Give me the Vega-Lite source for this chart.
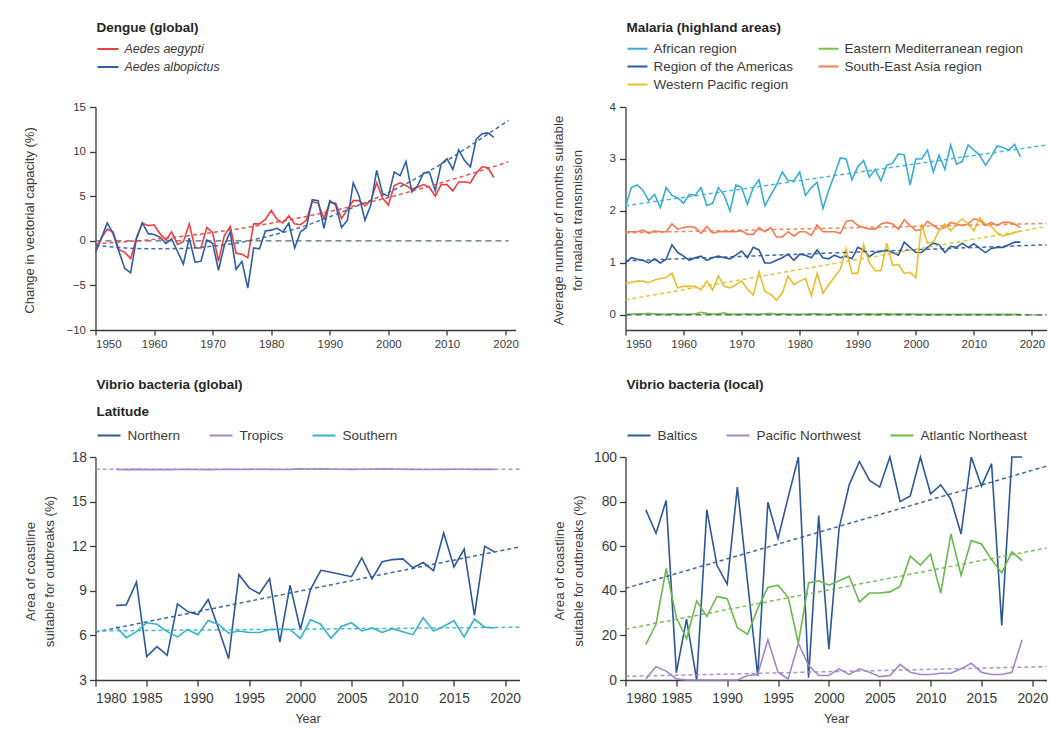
{
  "$schema": "https://vega.github.io/schema/vega-lite/v6.json",
  "padding": {"left": 22.5, "top": 21, "right": 2, "bottom": 2},
  "background": "white",
  "config": {
    "font": "Liberation Sans",
    "view": {"stroke": null},
    "axis": {"grid": false, "domainColor": "#3a3a3a", "tickColor": "#3a3a3a", "labelColor": "#3a3a3a", "titleColor": "#3a3a3a", "domainWidth": 1.3, "tickWidth": 1.3, "titleFontWeight": "normal"},
    "legend": {"symbolType": "stroke", "symbolStrokeWidth": 2, "labelColor": "#3a3a3a", "titleColor": "#262626", "titleFontWeight": "bold", "titleFontSize": 13.5, "labelFontSize": 13.5, "padding": 0, "labelLimit": 300}
  },
  "columns": 2,
  "spacing": {"row": 127, "column": 106},
  "bounds": "flush",
  "resolve": {"scale": {"color": "independent"}},
  "datasets": {
    "dengue": [
      {"x":1950,"v":-1.0,"s":"Aedes aegypti"},{"x":1951,"v":0.3,"s":"Aedes aegypti"},{"x":1952,"v":1.3,"s":"Aedes aegypti"},{"x":1953,"v":1.0,"s":"Aedes aegypti"},{"x":1954,"v":-1.0,"s":"Aedes aegypti"},{"x":1955,"v":-1.3,"s":"Aedes aegypti"},{"x":1956,"v":-2.0,"s":"Aedes aegypti"},{"x":1957,"v":0.3,"s":"Aedes aegypti"},{"x":1958,"v":2.0,"s":"Aedes aegypti"},{"x":1959,"v":1.7,"s":"Aedes aegypti"},
      {"x":1960,"v":1.8,"s":"Aedes aegypti"},{"x":1961,"v":0.8,"s":"Aedes aegypti"},{"x":1962,"v":0.1,"s":"Aedes aegypti"},{"x":1963,"v":1.0,"s":"Aedes aegypti"},{"x":1964,"v":-0.4,"s":"Aedes aegypti"},{"x":1965,"v":-0.1,"s":"Aedes aegypti"},{"x":1966,"v":1.9,"s":"Aedes aegypti"},{"x":1967,"v":-0.8,"s":"Aedes aegypti"},{"x":1968,"v":-0.8,"s":"Aedes aegypti"},{"x":1969,"v":1.5,"s":"Aedes aegypti"},
      {"x":1970,"v":0.9,"s":"Aedes aegypti"},{"x":1971,"v":-2.3,"s":"Aedes aegypti"},{"x":1972,"v":0.6,"s":"Aedes aegypti"},{"x":1973,"v":1.6,"s":"Aedes aegypti"},{"x":1974,"v":-1.4,"s":"Aedes aegypti"},{"x":1975,"v":-1.5,"s":"Aedes aegypti"},{"x":1976,"v":-1.9,"s":"Aedes aegypti"},{"x":1977,"v":1.9,"s":"Aedes aegypti"},{"x":1978,"v":1.9,"s":"Aedes aegypti"},{"x":1979,"v":2.4,"s":"Aedes aegypti"},
      {"x":1980,"v":3.4,"s":"Aedes aegypti"},{"x":1981,"v":2.4,"s":"Aedes aegypti"},{"x":1982,"v":2.0,"s":"Aedes aegypti"},{"x":1983,"v":2.8,"s":"Aedes aegypti"},{"x":1984,"v":1.9,"s":"Aedes aegypti"},{"x":1985,"v":1.8,"s":"Aedes aegypti"},{"x":1986,"v":2.3,"s":"Aedes aegypti"},{"x":1987,"v":4.4,"s":"Aedes aegypti"},{"x":1988,"v":4.2,"s":"Aedes aegypti"},{"x":1989,"v":2.5,"s":"Aedes aegypti"},
      {"x":1990,"v":4.3,"s":"Aedes aegypti"},{"x":1991,"v":4.2,"s":"Aedes aegypti"},{"x":1992,"v":2.5,"s":"Aedes aegypti"},{"x":1993,"v":3.5,"s":"Aedes aegypti"},{"x":1994,"v":4.5,"s":"Aedes aegypti"},{"x":1995,"v":4.5,"s":"Aedes aegypti"},{"x":1996,"v":3.9,"s":"Aedes aegypti"},{"x":1997,"v":4.5,"s":"Aedes aegypti"},{"x":1998,"v":6.5,"s":"Aedes aegypti"},{"x":1999,"v":4.8,"s":"Aedes aegypti"},
      {"x":2000,"v":4.0,"s":"Aedes aegypti"},{"x":2001,"v":6.2,"s":"Aedes aegypti"},{"x":2002,"v":6.5,"s":"Aedes aegypti"},{"x":2003,"v":6.2,"s":"Aedes aegypti"},{"x":2004,"v":5.8,"s":"Aedes aegypti"},{"x":2005,"v":6.0,"s":"Aedes aegypti"},{"x":2006,"v":6.3,"s":"Aedes aegypti"},{"x":2007,"v":6.0,"s":"Aedes aegypti"},{"x":2008,"v":5.0,"s":"Aedes aegypti"},{"x":2009,"v":6.3,"s":"Aedes aegypti"},
      {"x":2010,"v":6.3,"s":"Aedes aegypti"},{"x":2011,"v":5.6,"s":"Aedes aegypti"},{"x":2012,"v":6.6,"s":"Aedes aegypti"},{"x":2013,"v":6.6,"s":"Aedes aegypti"},{"x":2014,"v":6.5,"s":"Aedes aegypti"},{"x":2015,"v":7.6,"s":"Aedes aegypti"},{"x":2016,"v":8.3,"s":"Aedes aegypti"},{"x":2017,"v":8.2,"s":"Aedes aegypti"},{"x":2018,"v":7.1,"s":"Aedes aegypti"},
      {"x":1950,"v":-1.3,"s":"Aedes albopictus"},{"x":1951,"v":0.3,"s":"Aedes albopictus"},{"x":1952,"v":2.0,"s":"Aedes albopictus"},{"x":1953,"v":0.8,"s":"Aedes albopictus"},{"x":1954,"v":-1.2,"s":"Aedes albopictus"},{"x":1955,"v":-3.1,"s":"Aedes albopictus"},{"x":1956,"v":-3.6,"s":"Aedes albopictus"},{"x":1957,"v":0.3,"s":"Aedes albopictus"},{"x":1958,"v":2.0,"s":"Aedes albopictus"},{"x":1959,"v":0.8,"s":"Aedes albopictus"},
      {"x":1960,"v":0.7,"s":"Aedes albopictus"},{"x":1961,"v":0.4,"s":"Aedes albopictus"},{"x":1962,"v":-0.3,"s":"Aedes albopictus"},{"x":1963,"v":0.2,"s":"Aedes albopictus"},{"x":1964,"v":-1.2,"s":"Aedes albopictus"},{"x":1965,"v":-2.6,"s":"Aedes albopictus"},{"x":1966,"v":0.3,"s":"Aedes albopictus"},{"x":1967,"v":-2.4,"s":"Aedes albopictus"},{"x":1968,"v":-2.3,"s":"Aedes albopictus"},{"x":1969,"v":0.1,"s":"Aedes albopictus"},
      {"x":1970,"v":-0.3,"s":"Aedes albopictus"},{"x":1971,"v":-3.3,"s":"Aedes albopictus"},{"x":1972,"v":-0.5,"s":"Aedes albopictus"},{"x":1973,"v":1.0,"s":"Aedes albopictus"},{"x":1974,"v":-3.2,"s":"Aedes albopictus"},{"x":1975,"v":-2.3,"s":"Aedes albopictus"},{"x":1976,"v":-5.3,"s":"Aedes albopictus"},{"x":1977,"v":-0.8,"s":"Aedes albopictus"},{"x":1978,"v":-0.9,"s":"Aedes albopictus"},{"x":1979,"v":1.1,"s":"Aedes albopictus"},
      {"x":1980,"v":1.2,"s":"Aedes albopictus"},{"x":1981,"v":1.4,"s":"Aedes albopictus"},{"x":1982,"v":1.0,"s":"Aedes albopictus"},{"x":1983,"v":2.0,"s":"Aedes albopictus"},{"x":1984,"v":-0.8,"s":"Aedes albopictus"},{"x":1985,"v":1.0,"s":"Aedes albopictus"},{"x":1986,"v":1.5,"s":"Aedes albopictus"},{"x":1987,"v":4.6,"s":"Aedes albopictus"},{"x":1988,"v":4.5,"s":"Aedes albopictus"},{"x":1989,"v":1.4,"s":"Aedes albopictus"},
      {"x":1990,"v":4.5,"s":"Aedes albopictus"},{"x":1991,"v":4.0,"s":"Aedes albopictus"},{"x":1992,"v":1.5,"s":"Aedes albopictus"},{"x":1993,"v":2.3,"s":"Aedes albopictus"},{"x":1994,"v":6.5,"s":"Aedes albopictus"},{"x":1995,"v":5.0,"s":"Aedes albopictus"},{"x":1996,"v":2.3,"s":"Aedes albopictus"},{"x":1997,"v":4.0,"s":"Aedes albopictus"},{"x":1998,"v":7.9,"s":"Aedes albopictus"},{"x":1999,"v":5.3,"s":"Aedes albopictus"},
      {"x":2000,"v":5.0,"s":"Aedes albopictus"},{"x":2001,"v":7.7,"s":"Aedes albopictus"},{"x":2002,"v":7.3,"s":"Aedes albopictus"},{"x":2003,"v":8.9,"s":"Aedes albopictus"},{"x":2004,"v":5.5,"s":"Aedes albopictus"},{"x":2005,"v":6.2,"s":"Aedes albopictus"},{"x":2006,"v":7.6,"s":"Aedes albopictus"},{"x":2007,"v":7.7,"s":"Aedes albopictus"},{"x":2008,"v":5.6,"s":"Aedes albopictus"},{"x":2009,"v":8.6,"s":"Aedes albopictus"},
      {"x":2010,"v":9.2,"s":"Aedes albopictus"},{"x":2011,"v":8.0,"s":"Aedes albopictus"},{"x":2012,"v":10.2,"s":"Aedes albopictus"},{"x":2013,"v":9.0,"s":"Aedes albopictus"},{"x":2014,"v":8.3,"s":"Aedes albopictus"},{"x":2015,"v":11.4,"s":"Aedes albopictus"},{"x":2016,"v":12.0,"s":"Aedes albopictus"},{"x":2017,"v":12.1,"s":"Aedes albopictus"},{"x":2018,"v":11.6,"s":"Aedes albopictus"}
    ],
    "dengueTrend": [
      {"x":1950,"v":-0.35,"s":"Aedes aegypti"},{"x":1955,"v":-0.1,"s":"Aedes aegypti"},{"x":1960,"v":0.16,"s":"Aedes aegypti"},{"x":1965,"v":0.5,"s":"Aedes aegypti"},{"x":1970,"v":0.94,"s":"Aedes aegypti"},{"x":1975,"v":1.4,"s":"Aedes aegypti"},{"x":1980,"v":1.98,"s":"Aedes aegypti"},{"x":1985,"v":2.6,"s":"Aedes aegypti"},{"x":1990,"v":3.29,"s":"Aedes aegypti"},{"x":1995,"v":4.05,"s":"Aedes aegypti"},{"x":2000,"v":4.86,"s":"Aedes aegypti"},{"x":2005,"v":5.75,"s":"Aedes aegypti"},{"x":2010,"v":6.7,"s":"Aedes aegypti"},{"x":2015,"v":7.7,"s":"Aedes aegypti"},{"x":2020.5,"v":8.85,"s":"Aedes aegypti"},
      {"x":1950,"v":-0.5,"s":"Aedes albopictus"},{"x":1955,"v":-0.8,"s":"Aedes albopictus"},{"x":1960,"v":-0.9,"s":"Aedes albopictus"},{"x":1965,"v":-0.85,"s":"Aedes albopictus"},{"x":1970,"v":-0.6,"s":"Aedes albopictus"},{"x":1975,"v":-0.15,"s":"Aedes albopictus"},{"x":1980,"v":0.6,"s":"Aedes albopictus"},{"x":1985,"v":1.5,"s":"Aedes albopictus"},{"x":1990,"v":2.7,"s":"Aedes albopictus"},{"x":1995,"v":4.0,"s":"Aedes albopictus"},{"x":2000,"v":5.4,"s":"Aedes albopictus"},{"x":2005,"v":7.1,"s":"Aedes albopictus"},{"x":2010,"v":9.0,"s":"Aedes albopictus"},{"x":2015,"v":11.1,"s":"Aedes albopictus"},{"x":2020.5,"v":13.5,"s":"Aedes albopictus"}
    ],
    "malaria": [
      {"x":1950,"v":2.08,"s":"African region"},{"x":1951,"v":2.45,"s":"African region"},{"x":1952,"v":2.5,"s":"African region"},{"x":1953,"v":2.4,"s":"African region"},{"x":1954,"v":2.2,"s":"African region"},{"x":1955,"v":2.32,"s":"African region"},{"x":1956,"v":2.07,"s":"African region"},{"x":1957,"v":2.45,"s":"African region"},{"x":1958,"v":2.3,"s":"African region"},{"x":1959,"v":2.25,"s":"African region"},
      {"x":1960,"v":2.15,"s":"African region"},{"x":1961,"v":2.32,"s":"African region"},{"x":1962,"v":2.3,"s":"African region"},{"x":1963,"v":2.45,"s":"African region"},{"x":1964,"v":2.1,"s":"African region"},{"x":1965,"v":2.15,"s":"African region"},{"x":1966,"v":2.45,"s":"African region"},{"x":1967,"v":2.3,"s":"African region"},{"x":1968,"v":2.0,"s":"African region"},{"x":1969,"v":2.5,"s":"African region"},
      {"x":1970,"v":2.45,"s":"African region"},{"x":1971,"v":2.13,"s":"African region"},{"x":1972,"v":2.45,"s":"African region"},{"x":1973,"v":2.6,"s":"African region"},{"x":1974,"v":2.1,"s":"African region"},{"x":1975,"v":2.3,"s":"African region"},{"x":1976,"v":2.5,"s":"African region"},{"x":1977,"v":2.75,"s":"African region"},{"x":1978,"v":2.58,"s":"African region"},{"x":1979,"v":2.58,"s":"African region"},
      {"x":1980,"v":2.75,"s":"African region"},{"x":1981,"v":2.3,"s":"African region"},{"x":1982,"v":2.45,"s":"African region"},{"x":1983,"v":2.55,"s":"African region"},{"x":1984,"v":2.05,"s":"African region"},{"x":1985,"v":2.4,"s":"African region"},{"x":1986,"v":2.7,"s":"African region"},{"x":1987,"v":3.02,"s":"African region"},{"x":1988,"v":3.0,"s":"African region"},{"x":1989,"v":2.6,"s":"African region"},
      {"x":1990,"v":2.85,"s":"African region"},{"x":1991,"v":2.97,"s":"African region"},{"x":1992,"v":2.65,"s":"African region"},{"x":1993,"v":2.8,"s":"African region"},{"x":1994,"v":2.58,"s":"African region"},{"x":1995,"v":2.88,"s":"African region"},{"x":1996,"v":2.92,"s":"African region"},{"x":1997,"v":3.1,"s":"African region"},{"x":1998,"v":3.08,"s":"African region"},{"x":1999,"v":2.5,"s":"African region"},
      {"x":2000,"v":3.0,"s":"African region"},{"x":2001,"v":3.0,"s":"African region"},{"x":2002,"v":3.17,"s":"African region"},{"x":2003,"v":2.75,"s":"African region"},{"x":2004,"v":3.07,"s":"African region"},{"x":2005,"v":2.8,"s":"African region"},{"x":2006,"v":3.27,"s":"African region"},{"x":2007,"v":2.9,"s":"African region"},{"x":2008,"v":2.95,"s":"African region"},{"x":2009,"v":3.27,"s":"African region"},
      {"x":2010,"v":3.17,"s":"African region"},{"x":2011,"v":3.07,"s":"African region"},{"x":2012,"v":2.88,"s":"African region"},{"x":2013,"v":3.05,"s":"African region"},{"x":2014,"v":3.25,"s":"African region"},{"x":2015,"v":3.22,"s":"African region"},{"x":2016,"v":3.17,"s":"African region"},{"x":2017,"v":3.28,"s":"African region"},{"x":2018,"v":3.04,"s":"African region"},
      {"x":1950,"v":0.01,"s":"Eastern Mediterranean region"},{"x":1951,"v":0.01,"s":"Eastern Mediterranean region"},{"x":1952,"v":0.02,"s":"Eastern Mediterranean region"},{"x":1953,"v":0.02,"s":"Eastern Mediterranean region"},{"x":1954,"v":0.03,"s":"Eastern Mediterranean region"},{"x":1955,"v":0.02,"s":"Eastern Mediterranean region"},{"x":1956,"v":0.01,"s":"Eastern Mediterranean region"},{"x":1957,"v":0.01,"s":"Eastern Mediterranean region"},{"x":1958,"v":0.02,"s":"Eastern Mediterranean region"},{"x":1959,"v":0.01,"s":"Eastern Mediterranean region"},
      {"x":1960,"v":0.01,"s":"Eastern Mediterranean region"},{"x":1961,"v":0.01,"s":"Eastern Mediterranean region"},{"x":1962,"v":0.02,"s":"Eastern Mediterranean region"},{"x":1963,"v":0.05,"s":"Eastern Mediterranean region"},{"x":1964,"v":0.03,"s":"Eastern Mediterranean region"},{"x":1965,"v":0.01,"s":"Eastern Mediterranean region"},{"x":1966,"v":0.02,"s":"Eastern Mediterranean region"},{"x":1967,"v":0.04,"s":"Eastern Mediterranean region"},{"x":1968,"v":0.01,"s":"Eastern Mediterranean region"},{"x":1969,"v":0.01,"s":"Eastern Mediterranean region"},
      {"x":1970,"v":0.01,"s":"Eastern Mediterranean region"},{"x":1971,"v":0.02,"s":"Eastern Mediterranean region"},{"x":1972,"v":0.01,"s":"Eastern Mediterranean region"},{"x":1973,"v":0.01,"s":"Eastern Mediterranean region"},{"x":1974,"v":0.02,"s":"Eastern Mediterranean region"},{"x":1975,"v":0.03,"s":"Eastern Mediterranean region"},{"x":1976,"v":0.01,"s":"Eastern Mediterranean region"},{"x":1977,"v":0.02,"s":"Eastern Mediterranean region"},{"x":1978,"v":0.01,"s":"Eastern Mediterranean region"},{"x":1979,"v":0.01,"s":"Eastern Mediterranean region"},
      {"x":1980,"v":0.01,"s":"Eastern Mediterranean region"},{"x":1981,"v":0.01,"s":"Eastern Mediterranean region"},{"x":1982,"v":0.02,"s":"Eastern Mediterranean region"},{"x":1983,"v":0.02,"s":"Eastern Mediterranean region"},{"x":1984,"v":0.01,"s":"Eastern Mediterranean region"},{"x":1985,"v":0.01,"s":"Eastern Mediterranean region"},{"x":1986,"v":0.02,"s":"Eastern Mediterranean region"},{"x":1987,"v":0.01,"s":"Eastern Mediterranean region"},{"x":1988,"v":0.02,"s":"Eastern Mediterranean region"},{"x":1989,"v":0.02,"s":"Eastern Mediterranean region"},
      {"x":1990,"v":0.01,"s":"Eastern Mediterranean region"},{"x":1991,"v":0.02,"s":"Eastern Mediterranean region"},{"x":1992,"v":0.02,"s":"Eastern Mediterranean region"},{"x":1993,"v":0.01,"s":"Eastern Mediterranean region"},{"x":1994,"v":0.02,"s":"Eastern Mediterranean region"},{"x":1995,"v":0.02,"s":"Eastern Mediterranean region"},{"x":1996,"v":0.01,"s":"Eastern Mediterranean region"},{"x":1997,"v":0.02,"s":"Eastern Mediterranean region"},{"x":1998,"v":0.01,"s":"Eastern Mediterranean region"},{"x":1999,"v":0.02,"s":"Eastern Mediterranean region"},
      {"x":2000,"v":0.01,"s":"Eastern Mediterranean region"},{"x":2001,"v":0.01,"s":"Eastern Mediterranean region"},{"x":2002,"v":0.01,"s":"Eastern Mediterranean region"},{"x":2003,"v":0.01,"s":"Eastern Mediterranean region"},{"x":2004,"v":0.01,"s":"Eastern Mediterranean region"},{"x":2005,"v":0.01,"s":"Eastern Mediterranean region"},{"x":2006,"v":0.01,"s":"Eastern Mediterranean region"},{"x":2007,"v":0.01,"s":"Eastern Mediterranean region"},{"x":2008,"v":0.01,"s":"Eastern Mediterranean region"},{"x":2009,"v":0.01,"s":"Eastern Mediterranean region"},
      {"x":2010,"v":0.01,"s":"Eastern Mediterranean region"},{"x":2011,"v":0.01,"s":"Eastern Mediterranean region"},{"x":2012,"v":0.01,"s":"Eastern Mediterranean region"},{"x":2013,"v":0.01,"s":"Eastern Mediterranean region"},{"x":2014,"v":0.01,"s":"Eastern Mediterranean region"},{"x":2015,"v":0.01,"s":"Eastern Mediterranean region"},{"x":2016,"v":0.01,"s":"Eastern Mediterranean region"},{"x":2017,"v":0.01,"s":"Eastern Mediterranean region"},{"x":2018,"v":0.01,"s":"Eastern Mediterranean region"},
      {"x":1950,"v":1.0,"s":"Region of the Americas"},{"x":1951,"v":1.1,"s":"Region of the Americas"},{"x":1952,"v":1.07,"s":"Region of the Americas"},{"x":1953,"v":1.05,"s":"Region of the Americas"},{"x":1954,"v":1.0,"s":"Region of the Americas"},{"x":1955,"v":1.08,"s":"Region of the Americas"},{"x":1956,"v":1.0,"s":"Region of the Americas"},{"x":1957,"v":1.07,"s":"Region of the Americas"},{"x":1958,"v":1.35,"s":"Region of the Americas"},{"x":1959,"v":1.2,"s":"Region of the Americas"},
      {"x":1960,"v":1.13,"s":"Region of the Americas"},{"x":1961,"v":1.05,"s":"Region of the Americas"},{"x":1962,"v":1.1,"s":"Region of the Americas"},{"x":1963,"v":1.13,"s":"Region of the Americas"},{"x":1964,"v":1.05,"s":"Region of the Americas"},{"x":1965,"v":1.1,"s":"Region of the Americas"},{"x":1966,"v":1.13,"s":"Region of the Americas"},{"x":1967,"v":1.1,"s":"Region of the Americas"},{"x":1968,"v":1.08,"s":"Region of the Americas"},{"x":1969,"v":1.15,"s":"Region of the Americas"},
      {"x":1970,"v":1.23,"s":"Region of the Americas"},{"x":1971,"v":1.1,"s":"Region of the Americas"},{"x":1972,"v":1.3,"s":"Region of the Americas"},{"x":1973,"v":1.25,"s":"Region of the Americas"},{"x":1974,"v":1.0,"s":"Region of the Americas"},{"x":1975,"v":1.0,"s":"Region of the Americas"},{"x":1976,"v":1.05,"s":"Region of the Americas"},{"x":1977,"v":1.1,"s":"Region of the Americas"},{"x":1978,"v":1.17,"s":"Region of the Americas"},{"x":1979,"v":1.05,"s":"Region of the Americas"},
      {"x":1980,"v":1.17,"s":"Region of the Americas"},{"x":1981,"v":1.15,"s":"Region of the Americas"},{"x":1982,"v":1.1,"s":"Region of the Americas"},{"x":1983,"v":1.25,"s":"Region of the Americas"},{"x":1984,"v":1.1,"s":"Region of the Americas"},{"x":1985,"v":1.08,"s":"Region of the Americas"},{"x":1986,"v":1.15,"s":"Region of the Americas"},{"x":1987,"v":1.1,"s":"Region of the Americas"},{"x":1988,"v":1.13,"s":"Region of the Americas"},{"x":1989,"v":1.08,"s":"Region of the Americas"},
      {"x":1990,"v":1.3,"s":"Region of the Americas"},{"x":1991,"v":1.25,"s":"Region of the Americas"},{"x":1992,"v":1.12,"s":"Region of the Americas"},{"x":1993,"v":1.2,"s":"Region of the Americas"},{"x":1994,"v":1.22,"s":"Region of the Americas"},{"x":1995,"v":1.25,"s":"Region of the Americas"},{"x":1996,"v":1.2,"s":"Region of the Americas"},{"x":1997,"v":1.15,"s":"Region of the Americas"},{"x":1998,"v":1.4,"s":"Region of the Americas"},{"x":1999,"v":1.3,"s":"Region of the Americas"},
      {"x":2000,"v":1.2,"s":"Region of the Americas"},{"x":2001,"v":1.2,"s":"Region of the Americas"},{"x":2002,"v":1.3,"s":"Region of the Americas"},{"x":2003,"v":1.38,"s":"Region of the Americas"},{"x":2004,"v":1.35,"s":"Region of the Americas"},{"x":2005,"v":1.2,"s":"Region of the Americas"},{"x":2006,"v":1.32,"s":"Region of the Americas"},{"x":2007,"v":1.3,"s":"Region of the Americas"},{"x":2008,"v":1.38,"s":"Region of the Americas"},{"x":2009,"v":1.3,"s":"Region of the Americas"},
      {"x":2010,"v":1.37,"s":"Region of the Americas"},{"x":2011,"v":1.28,"s":"Region of the Americas"},{"x":2012,"v":1.2,"s":"Region of the Americas"},{"x":2013,"v":1.28,"s":"Region of the Americas"},{"x":2014,"v":1.3,"s":"Region of the Americas"},{"x":2015,"v":1.3,"s":"Region of the Americas"},{"x":2016,"v":1.35,"s":"Region of the Americas"},{"x":2017,"v":1.4,"s":"Region of the Americas"},{"x":2018,"v":1.4,"s":"Region of the Americas"},
      {"x":1950,"v":1.6,"s":"South-East Asia region"},{"x":1951,"v":1.6,"s":"South-East Asia region"},{"x":1952,"v":1.6,"s":"South-East Asia region"},{"x":1953,"v":1.63,"s":"South-East Asia region"},{"x":1954,"v":1.57,"s":"South-East Asia region"},{"x":1955,"v":1.62,"s":"South-East Asia region"},{"x":1956,"v":1.6,"s":"South-East Asia region"},{"x":1957,"v":1.6,"s":"South-East Asia region"},{"x":1958,"v":1.75,"s":"South-East Asia region"},{"x":1959,"v":1.65,"s":"South-East Asia region"},
      {"x":1960,"v":1.68,"s":"South-East Asia region"},{"x":1961,"v":1.7,"s":"South-East Asia region"},{"x":1962,"v":1.68,"s":"South-East Asia region"},{"x":1963,"v":1.57,"s":"South-East Asia region"},{"x":1964,"v":1.7,"s":"South-East Asia region"},{"x":1965,"v":1.58,"s":"South-East Asia region"},{"x":1966,"v":1.6,"s":"South-East Asia region"},{"x":1967,"v":1.6,"s":"South-East Asia region"},{"x":1968,"v":1.6,"s":"South-East Asia region"},{"x":1969,"v":1.6,"s":"South-East Asia region"},
      {"x":1970,"v":1.62,"s":"South-East Asia region"},{"x":1971,"v":1.55,"s":"South-East Asia region"},{"x":1972,"v":1.55,"s":"South-East Asia region"},{"x":1973,"v":1.68,"s":"South-East Asia region"},{"x":1974,"v":1.6,"s":"South-East Asia region"},{"x":1975,"v":1.68,"s":"South-East Asia region"},{"x":1976,"v":1.5,"s":"South-East Asia region"},{"x":1977,"v":1.5,"s":"South-East Asia region"},{"x":1978,"v":1.6,"s":"South-East Asia region"},{"x":1979,"v":1.52,"s":"South-East Asia region"},
      {"x":1980,"v":1.6,"s":"South-East Asia region"},{"x":1981,"v":1.6,"s":"South-East Asia region"},{"x":1982,"v":1.53,"s":"South-East Asia region"},{"x":1983,"v":1.73,"s":"South-East Asia region"},{"x":1984,"v":1.6,"s":"South-East Asia region"},{"x":1985,"v":1.6,"s":"South-East Asia region"},{"x":1986,"v":1.6,"s":"South-East Asia region"},{"x":1987,"v":1.57,"s":"South-East Asia region"},{"x":1988,"v":1.8,"s":"South-East Asia region"},{"x":1989,"v":1.82,"s":"South-East Asia region"},
      {"x":1990,"v":1.72,"s":"South-East Asia region"},{"x":1991,"v":1.68,"s":"South-East Asia region"},{"x":1992,"v":1.65,"s":"South-East Asia region"},{"x":1993,"v":1.65,"s":"South-East Asia region"},{"x":1994,"v":1.75,"s":"South-East Asia region"},{"x":1995,"v":1.78,"s":"South-East Asia region"},{"x":1996,"v":1.75,"s":"South-East Asia region"},{"x":1997,"v":1.65,"s":"South-East Asia region"},{"x":1998,"v":1.83,"s":"South-East Asia region"},{"x":1999,"v":1.72,"s":"South-East Asia region"},
      {"x":2000,"v":1.62,"s":"South-East Asia region"},{"x":2001,"v":1.65,"s":"South-East Asia region"},{"x":2002,"v":1.8,"s":"South-East Asia region"},{"x":2003,"v":1.72,"s":"South-East Asia region"},{"x":2004,"v":1.65,"s":"South-East Asia region"},{"x":2005,"v":1.68,"s":"South-East Asia region"},{"x":2006,"v":1.78,"s":"South-East Asia region"},{"x":2007,"v":1.75,"s":"South-East Asia region"},{"x":2008,"v":1.72,"s":"South-East Asia region"},{"x":2009,"v":1.75,"s":"South-East Asia region"},
      {"x":2010,"v":1.85,"s":"South-East Asia region"},{"x":2011,"v":1.82,"s":"South-East Asia region"},{"x":2012,"v":1.72,"s":"South-East Asia region"},{"x":2013,"v":1.78,"s":"South-East Asia region"},{"x":2014,"v":1.72,"s":"South-East Asia region"},{"x":2015,"v":1.78,"s":"South-East Asia region"},{"x":2016,"v":1.78,"s":"South-East Asia region"},{"x":2017,"v":1.75,"s":"South-East Asia region"},{"x":2018,"v":1.68,"s":"South-East Asia region"},
      {"x":1950,"v":0.6,"s":"Western Pacific region"},{"x":1951,"v":0.63,"s":"Western Pacific region"},{"x":1952,"v":0.65,"s":"Western Pacific region"},{"x":1953,"v":0.65,"s":"Western Pacific region"},{"x":1954,"v":0.62,"s":"Western Pacific region"},{"x":1955,"v":0.67,"s":"Western Pacific region"},{"x":1956,"v":0.7,"s":"Western Pacific region"},{"x":1957,"v":0.72,"s":"Western Pacific region"},{"x":1958,"v":0.8,"s":"Western Pacific region"},{"x":1959,"v":0.52,"s":"Western Pacific region"},
      {"x":1960,"v":0.55,"s":"Western Pacific region"},{"x":1961,"v":0.55,"s":"Western Pacific region"},{"x":1962,"v":0.55,"s":"Western Pacific region"},{"x":1963,"v":0.48,"s":"Western Pacific region"},{"x":1964,"v":0.65,"s":"Western Pacific region"},{"x":1965,"v":0.48,"s":"Western Pacific region"},{"x":1966,"v":0.75,"s":"Western Pacific region"},{"x":1967,"v":0.55,"s":"Western Pacific region"},{"x":1968,"v":0.52,"s":"Western Pacific region"},{"x":1969,"v":0.58,"s":"Western Pacific region"},
      {"x":1970,"v":0.65,"s":"Western Pacific region"},{"x":1971,"v":0.5,"s":"Western Pacific region"},{"x":1972,"v":0.38,"s":"Western Pacific region"},{"x":1973,"v":0.83,"s":"Western Pacific region"},{"x":1974,"v":0.45,"s":"Western Pacific region"},{"x":1975,"v":0.4,"s":"Western Pacific region"},{"x":1976,"v":0.28,"s":"Western Pacific region"},{"x":1977,"v":0.42,"s":"Western Pacific region"},{"x":1978,"v":0.75,"s":"Western Pacific region"},{"x":1979,"v":0.58,"s":"Western Pacific region"},
      {"x":1980,"v":0.65,"s":"Western Pacific region"},{"x":1981,"v":0.7,"s":"Western Pacific region"},{"x":1982,"v":0.37,"s":"Western Pacific region"},{"x":1983,"v":0.8,"s":"Western Pacific region"},{"x":1984,"v":0.42,"s":"Western Pacific region"},{"x":1985,"v":0.58,"s":"Western Pacific region"},{"x":1986,"v":0.73,"s":"Western Pacific region"},{"x":1987,"v":0.88,"s":"Western Pacific region"},{"x":1988,"v":1.27,"s":"Western Pacific region"},{"x":1989,"v":0.8,"s":"Western Pacific region"},
      {"x":1990,"v":0.8,"s":"Western Pacific region"},{"x":1991,"v":1.35,"s":"Western Pacific region"},{"x":1992,"v":1.0,"s":"Western Pacific region"},{"x":1993,"v":0.85,"s":"Western Pacific region"},{"x":1994,"v":0.85,"s":"Western Pacific region"},{"x":1995,"v":1.38,"s":"Western Pacific region"},{"x":1996,"v":0.95,"s":"Western Pacific region"},{"x":1997,"v":0.97,"s":"Western Pacific region"},{"x":1998,"v":0.8,"s":"Western Pacific region"},{"x":1999,"v":0.82,"s":"Western Pacific region"},
      {"x":2000,"v":0.72,"s":"Western Pacific region"},{"x":2001,"v":1.75,"s":"Western Pacific region"},{"x":2002,"v":1.38,"s":"Western Pacific region"},{"x":2003,"v":1.4,"s":"Western Pacific region"},{"x":2004,"v":1.62,"s":"Western Pacific region"},{"x":2005,"v":1.75,"s":"Western Pacific region"},{"x":2006,"v":1.62,"s":"Western Pacific region"},{"x":2007,"v":1.75,"s":"Western Pacific region"},{"x":2008,"v":1.85,"s":"Western Pacific region"},{"x":2009,"v":1.75,"s":"Western Pacific region"},
      {"x":2010,"v":1.62,"s":"Western Pacific region"},{"x":2011,"v":1.87,"s":"Western Pacific region"},{"x":2012,"v":1.75,"s":"Western Pacific region"},{"x":2013,"v":1.7,"s":"Western Pacific region"},{"x":2014,"v":1.58,"s":"Western Pacific region"},{"x":2015,"v":1.52,"s":"Western Pacific region"},{"x":2016,"v":1.55,"s":"Western Pacific region"},{"x":2017,"v":1.58,"s":"Western Pacific region"},{"x":2018,"v":1.62,"s":"Western Pacific region"}
    ],
    "malariaTrend": [
      {"x":1950,"v":2.1,"s":"African region"},{"x":2022.5,"v":3.27,"s":"African region"},
      {"x":1950,"v":0.02,"s":"Eastern Mediterranean region"},{"x":2022.5,"v":0.0,"s":"Eastern Mediterranean region"},
      {"x":1950,"v":1.04,"s":"Region of the Americas"},{"x":2022.5,"v":1.35,"s":"Region of the Americas"},
      {"x":1950,"v":1.58,"s":"South-East Asia region"},{"x":2022.5,"v":1.76,"s":"South-East Asia region"},
      {"x":1950,"v":0.29,"s":"Western Pacific region"},{"x":2022.5,"v":1.7,"s":"Western Pacific region"}
    ],
    "vibrioG": [
      {"x":1982,"v":8.01,"s":"Northern"},{"x":1983,"v":8.05,"s":"Northern"},{"x":1984,"v":9.58,"s":"Northern"},{"x":1985,"v":4.57,"s":"Northern"},{"x":1986,"v":5.24,"s":"Northern"},{"x":1987,"v":4.66,"s":"Northern"},{"x":1988,"v":8.12,"s":"Northern"},{"x":1989,"v":7.6,"s":"Northern"},{"x":1990,"v":7.4,"s":"Northern"},{"x":1991,"v":8.41,"s":"Northern"},
      {"x":1992,"v":6.5,"s":"Northern"},{"x":1993,"v":4.43,"s":"Northern"},{"x":1994,"v":10.09,"s":"Northern"},{"x":1995,"v":9.2,"s":"Northern"},{"x":1996,"v":8.8,"s":"Northern"},{"x":1997,"v":9.82,"s":"Northern"},{"x":1998,"v":5.55,"s":"Northern"},{"x":1999,"v":9.38,"s":"Northern"},{"x":2000,"v":6.4,"s":"Northern"},{"x":2001,"v":9.1,"s":"Northern"},
      {"x":2002,"v":10.38,"s":"Northern"},{"x":2003,"v":10.25,"s":"Northern"},{"x":2004,"v":10.1,"s":"Northern"},{"x":2005,"v":9.95,"s":"Northern"},{"x":2006,"v":11.21,"s":"Northern"},{"x":2007,"v":9.8,"s":"Northern"},{"x":2008,"v":10.95,"s":"Northern"},{"x":2009,"v":11.1,"s":"Northern"},{"x":2010,"v":11.15,"s":"Northern"},{"x":2011,"v":10.55,"s":"Northern"},
      {"x":2012,"v":10.9,"s":"Northern"},{"x":2013,"v":10.35,"s":"Northern"},{"x":2014,"v":12.89,"s":"Northern"},{"x":2015,"v":10.6,"s":"Northern"},{"x":2016,"v":11.8,"s":"Northern"},{"x":2017,"v":7.34,"s":"Northern"},{"x":2018,"v":12.0,"s":"Northern"},{"x":2019,"v":11.6,"s":"Northern"},
      {"x":1982,"v":17.16,"s":"Tropics"},{"x":1983,"v":17.15,"s":"Tropics"},{"x":1984,"v":17.17,"s":"Tropics"},{"x":1985,"v":17.15,"s":"Tropics"},{"x":1986,"v":17.16,"s":"Tropics"},{"x":1987,"v":17.15,"s":"Tropics"},{"x":1988,"v":17.16,"s":"Tropics"},{"x":1989,"v":17.17,"s":"Tropics"},{"x":1990,"v":17.16,"s":"Tropics"},{"x":1991,"v":17.15,"s":"Tropics"},
      {"x":1992,"v":17.16,"s":"Tropics"},{"x":1993,"v":17.17,"s":"Tropics"},{"x":1994,"v":17.16,"s":"Tropics"},{"x":1995,"v":17.17,"s":"Tropics"},{"x":1996,"v":17.18,"s":"Tropics"},{"x":1997,"v":17.17,"s":"Tropics"},{"x":1998,"v":17.16,"s":"Tropics"},{"x":1999,"v":17.17,"s":"Tropics"},{"x":2000,"v":17.2,"s":"Tropics"},{"x":2001,"v":17.19,"s":"Tropics"},
      {"x":2002,"v":17.2,"s":"Tropics"},{"x":2003,"v":17.19,"s":"Tropics"},{"x":2004,"v":17.18,"s":"Tropics"},{"x":2005,"v":17.17,"s":"Tropics"},{"x":2006,"v":17.18,"s":"Tropics"},{"x":2007,"v":17.19,"s":"Tropics"},{"x":2008,"v":17.2,"s":"Tropics"},{"x":2009,"v":17.19,"s":"Tropics"},{"x":2010,"v":17.18,"s":"Tropics"},{"x":2011,"v":17.17,"s":"Tropics"},
      {"x":2012,"v":17.16,"s":"Tropics"},{"x":2013,"v":17.16,"s":"Tropics"},{"x":2014,"v":17.17,"s":"Tropics"},{"x":2015,"v":17.18,"s":"Tropics"},{"x":2016,"v":17.18,"s":"Tropics"},{"x":2017,"v":17.17,"s":"Tropics"},{"x":2018,"v":17.18,"s":"Tropics"},{"x":2019,"v":17.17,"s":"Tropics"},
      {"x":1982,"v":6.6,"s":"Southern"},{"x":1983,"v":5.85,"s":"Southern"},{"x":1984,"v":6.25,"s":"Southern"},{"x":1985,"v":6.85,"s":"Southern"},{"x":1986,"v":6.75,"s":"Southern"},{"x":1987,"v":6.25,"s":"Southern"},{"x":1988,"v":5.9,"s":"Southern"},{"x":1989,"v":6.4,"s":"Southern"},{"x":1990,"v":6.05,"s":"Southern"},{"x":1991,"v":7.0,"s":"Southern"},
      {"x":1992,"v":6.75,"s":"Southern"},{"x":1993,"v":6.15,"s":"Southern"},{"x":1994,"v":6.3,"s":"Southern"},{"x":1995,"v":6.2,"s":"Southern"},{"x":1996,"v":6.2,"s":"Southern"},{"x":1997,"v":6.4,"s":"Southern"},{"x":1998,"v":6.4,"s":"Southern"},{"x":1999,"v":6.4,"s":"Southern"},{"x":2000,"v":5.8,"s":"Southern"},{"x":2001,"v":7.05,"s":"Southern"},
      {"x":2002,"v":6.75,"s":"Southern"},{"x":2003,"v":5.8,"s":"Southern"},{"x":2004,"v":6.6,"s":"Southern"},{"x":2005,"v":6.85,"s":"Southern"},{"x":2006,"v":6.3,"s":"Southern"},{"x":2007,"v":6.5,"s":"Southern"},{"x":2008,"v":6.2,"s":"Southern"},{"x":2009,"v":6.45,"s":"Southern"},{"x":2010,"v":6.25,"s":"Southern"},{"x":2011,"v":6.05,"s":"Southern"},
      {"x":2012,"v":7.2,"s":"Southern"},{"x":2013,"v":6.3,"s":"Southern"},{"x":2014,"v":6.6,"s":"Southern"},{"x":2015,"v":7.0,"s":"Southern"},{"x":2016,"v":5.9,"s":"Southern"},{"x":2017,"v":7.1,"s":"Southern"},{"x":2018,"v":6.55,"s":"Southern"},{"x":2019,"v":6.5,"s":"Southern"}
    ],
    "vibrioGTrend": [
      {"x":1980,"v":6.22,"s":"Northern"},{"x":2021.4,"v":11.95,"s":"Northern"},
      {"x":1980,"v":17.18,"s":"Tropics"},{"x":2021.4,"v":17.18,"s":"Tropics"},
      {"x":1980,"v":6.3,"s":"Southern"},{"x":2021.4,"v":6.55,"s":"Southern"}
    ],
    "vibrioL": [
      {"x":1982,"v":76.3,"s":"Baltics"},{"x":1983,"v":65.8,"s":"Baltics"},{"x":1984,"v":80.5,"s":"Baltics"},{"x":1985,"v":3.3,"s":"Baltics"},{"x":1986,"v":27.3,"s":"Baltics"},{"x":1987,"v":0,"s":"Baltics"},{"x":1988,"v":76.3,"s":"Baltics"},{"x":1989,"v":51.3,"s":"Baltics"},{"x":1990,"v":43,"s":"Baltics"},{"x":1991,"v":86.5,"s":"Baltics"},
      {"x":1992,"v":44,"s":"Baltics"},{"x":1993,"v":1.8,"s":"Baltics"},{"x":1994,"v":79.7,"s":"Baltics"},{"x":1995,"v":63.5,"s":"Baltics"},{"x":1996,"v":82,"s":"Baltics"},{"x":1997,"v":100,"s":"Baltics"},{"x":1998,"v":1,"s":"Baltics"},{"x":1999,"v":73.7,"s":"Baltics"},{"x":2000,"v":13.8,"s":"Baltics"},{"x":2001,"v":68,"s":"Baltics"},
      {"x":2002,"v":87.5,"s":"Baltics"},{"x":2003,"v":98,"s":"Baltics"},{"x":2004,"v":89.5,"s":"Baltics"},{"x":2005,"v":86.5,"s":"Baltics"},{"x":2006,"v":100,"s":"Baltics"},{"x":2007,"v":80,"s":"Baltics"},{"x":2008,"v":82.5,"s":"Baltics"},{"x":2009,"v":100,"s":"Baltics"},{"x":2010,"v":83.5,"s":"Baltics"},{"x":2011,"v":87.5,"s":"Baltics"},
      {"x":2012,"v":81,"s":"Baltics"},{"x":2013,"v":65.5,"s":"Baltics"},{"x":2014,"v":100,"s":"Baltics"},{"x":2015,"v":87,"s":"Baltics"},{"x":2016,"v":97,"s":"Baltics"},{"x":2017,"v":24.5,"s":"Baltics"},{"x":2018,"v":100,"s":"Baltics"},{"x":2019,"v":100,"s":"Baltics"},
      {"x":1982,"v":0.5,"s":"Pacific Northwest"},{"x":1983,"v":6,"s":"Pacific Northwest"},{"x":1984,"v":4,"s":"Pacific Northwest"},{"x":1985,"v":0.5,"s":"Pacific Northwest"},{"x":1986,"v":0,"s":"Pacific Northwest"},{"x":1987,"v":0,"s":"Pacific Northwest"},{"x":1988,"v":0,"s":"Pacific Northwest"},{"x":1989,"v":0,"s":"Pacific Northwest"},{"x":1990,"v":0,"s":"Pacific Northwest"},{"x":1991,"v":0,"s":"Pacific Northwest"},
      {"x":1992,"v":2,"s":"Pacific Northwest"},{"x":1993,"v":2.5,"s":"Pacific Northwest"},{"x":1994,"v":18,"s":"Pacific Northwest"},{"x":1995,"v":3.5,"s":"Pacific Northwest"},{"x":1996,"v":0.5,"s":"Pacific Northwest"},{"x":1997,"v":16.5,"s":"Pacific Northwest"},{"x":1998,"v":6.5,"s":"Pacific Northwest"},{"x":1999,"v":2,"s":"Pacific Northwest"},{"x":2000,"v":2,"s":"Pacific Northwest"},{"x":2001,"v":5,"s":"Pacific Northwest"},
      {"x":2002,"v":2.5,"s":"Pacific Northwest"},{"x":2003,"v":5,"s":"Pacific Northwest"},{"x":2004,"v":3.5,"s":"Pacific Northwest"},{"x":2005,"v":1.5,"s":"Pacific Northwest"},{"x":2006,"v":2,"s":"Pacific Northwest"},{"x":2007,"v":7,"s":"Pacific Northwest"},{"x":2008,"v":3.5,"s":"Pacific Northwest"},{"x":2009,"v":2.5,"s":"Pacific Northwest"},{"x":2010,"v":2.5,"s":"Pacific Northwest"},{"x":2011,"v":3,"s":"Pacific Northwest"},
      {"x":2012,"v":3,"s":"Pacific Northwest"},{"x":2013,"v":5,"s":"Pacific Northwest"},{"x":2014,"v":7.5,"s":"Pacific Northwest"},{"x":2015,"v":3.5,"s":"Pacific Northwest"},{"x":2016,"v":2.5,"s":"Pacific Northwest"},{"x":2017,"v":2.5,"s":"Pacific Northwest"},{"x":2018,"v":3.5,"s":"Pacific Northwest"},{"x":2019,"v":18,"s":"Pacific Northwest"},
      {"x":1982,"v":16,"s":"Atlantic Northeast"},{"x":1983,"v":25,"s":"Atlantic Northeast"},{"x":1984,"v":50,"s":"Atlantic Northeast"},{"x":1985,"v":28,"s":"Atlantic Northeast"},{"x":1986,"v":18.5,"s":"Atlantic Northeast"},{"x":1987,"v":35.5,"s":"Atlantic Northeast"},{"x":1988,"v":28.5,"s":"Atlantic Northeast"},{"x":1989,"v":37.5,"s":"Atlantic Northeast"},{"x":1990,"v":36.5,"s":"Atlantic Northeast"},{"x":1991,"v":23.5,"s":"Atlantic Northeast"},
      {"x":1992,"v":20.5,"s":"Atlantic Northeast"},{"x":1993,"v":32,"s":"Atlantic Northeast"},{"x":1994,"v":41.5,"s":"Atlantic Northeast"},{"x":1995,"v":42.5,"s":"Atlantic Northeast"},{"x":1996,"v":37,"s":"Atlantic Northeast"},{"x":1997,"v":16.5,"s":"Atlantic Northeast"},{"x":1998,"v":43.5,"s":"Atlantic Northeast"},{"x":1999,"v":44.5,"s":"Atlantic Northeast"},{"x":2000,"v":42.5,"s":"Atlantic Northeast"},{"x":2001,"v":44.5,"s":"Atlantic Northeast"},
      {"x":2002,"v":46.5,"s":"Atlantic Northeast"},{"x":2003,"v":35,"s":"Atlantic Northeast"},{"x":2004,"v":39,"s":"Atlantic Northeast"},{"x":2005,"v":39,"s":"Atlantic Northeast"},{"x":2006,"v":39.5,"s":"Atlantic Northeast"},{"x":2007,"v":42,"s":"Atlantic Northeast"},{"x":2008,"v":55.5,"s":"Atlantic Northeast"},{"x":2009,"v":51.5,"s":"Atlantic Northeast"},{"x":2010,"v":56.5,"s":"Atlantic Northeast"},{"x":2011,"v":39,"s":"Atlantic Northeast"},
      {"x":2012,"v":65.5,"s":"Atlantic Northeast"},{"x":2013,"v":47,"s":"Atlantic Northeast"},{"x":2014,"v":62.5,"s":"Atlantic Northeast"},{"x":2015,"v":61,"s":"Atlantic Northeast"},{"x":2016,"v":54,"s":"Atlantic Northeast"},{"x":2017,"v":48,"s":"Atlantic Northeast"},{"x":2018,"v":57.5,"s":"Atlantic Northeast"},{"x":2019,"v":53.5,"s":"Atlantic Northeast"}
    ],
    "vibrioLTrend": [
      {"x":1980,"v":41.1,"s":"Baltics"},{"x":2021.4,"v":95.9,"s":"Baltics"},
      {"x":1980,"v":1.6,"s":"Pacific Northwest"},{"x":2021.4,"v":6.0,"s":"Pacific Northwest"},
      {"x":1980,"v":22.8,"s":"Atlantic Northeast"},{"x":2021.4,"v":59.2,"s":"Atlantic Northeast"}
    ]
  },
  "concat": [
    {
      "width": 420, "height": 223,
      "layer": [
        {
          "data": {"values": [{"x": 1950, "v": 0}, {"x": 2020.5, "v": 0}]},
          "mark": {"type": "line", "color": "#4d6a73", "strokeDash": [6, 4], "strokeWidth": 1.3},
          "encoding": {
            "x": {"field": "x", "type": "quantitative", "scale": {"domain": [1950, 2021.7], "nice": false, "zero": false},
                  "axis": {"values": [1950, 1960, 1970, 1980, 1990, 2000, 2010, 2020], "format": "d", "title": null, "labelFontSize": 11.5, "tickSize": 5, "labelPadding": 3}},
            "y": {"field": "v", "type": "quantitative", "scale": {"domain": [-10, 15], "nice": false},
                  "axis": {"values": [-10, -5, 0, 5, 10, 15], "title": "Change in vectorial capacity (%)", "titleFontSize": 13, "titleX": -59, "titleY": 113, "titleAngle": -90, "titleAlign": "center", "titleBaseline": "bottom", "labelFontSize": 11.5, "tickSize": 6, "labelPadding": 4}}
          }
        },
        {
          "data": {"name": "dengue"},
          "mark": {"type": "line", "strokeWidth": 1.6},
          "encoding": {
            "x": {"field": "x", "type": "quantitative"},
            "y": {"field": "v", "type": "quantitative"},
            "color": {"field": "s", "type": "nominal", "scale": {"domain": ["Aedes aegypti", "Aedes albopictus"], "range": ["#ee3d3d", "#2e5fa3"]},
                      "legend": {"title": "Dengue (global)", "orient": "none", "legendX": 1, "legendY": -86, "direction": "vertical", "symbolSize": 441, "labelFontSize": 12.5, "labelFontStyle": "italic", "titlePadding": 3, "rowPadding": 0, "labelOffset": 5}}
          }
        },
        {
          "data": {"name": "dengueTrend"},
          "mark": {"type": "line", "strokeWidth": 1.5, "strokeDash": [4, 3], "interpolate": "monotone", "opacity": 0.9},
          "encoding": {
            "x": {"field": "x", "type": "quantitative"},
            "y": {"field": "v", "type": "quantitative"},
            "color": {"field": "s", "type": "nominal", "legend": null}
          }
        }
      ]
    },
    {
      "width": 421, "height": 223,
      "layer": [
        {
          "data": {"name": "malaria"},
          "mark": {"type": "line", "strokeWidth": 1.6},
          "encoding": {
            "x": {"field": "x", "type": "quantitative", "scale": {"domain": [1950, 2022.5], "nice": false, "zero": false},
                  "axis": {"values": [1950, 1960, 1970, 1980, 1990, 2000, 2010, 2020], "format": "d", "title": null, "labelFontSize": 11.5, "tickSize": 5, "labelPadding": 3}},
            "y": {"field": "v", "type": "quantitative", "scale": {"domain": [-0.29, 4], "nice": false},
                  "axis": {"values": [0, 1, 2, 3, 4], "title": ["Average number of months suitable", "for malaria transmission"], "titleFontSize": 13.3, "titleLineHeight": 19, "titleX": -60, "titleY": 113, "titleAngle": -90, "titleAlign": "center", "titleBaseline": "bottom", "labelFontSize": 11.5, "tickSize": 6, "labelPadding": 4}},
            "color": {"field": "s", "type": "nominal",
                      "scale": {"domain": ["African region", "Eastern Mediterranean region", "Region of the Americas", "South-East Asia region", "Western Pacific region"], "range": ["#3aaed2", "#7dc24b", "#2e5ba0", "#f47b4f", "#e7be2e"]},
                      "legend": {"title": "Malaria (highland areas)", "orient": "none", "legendX": 1, "legendY": -86, "direction": "horizontal", "columns": 2, "columnPadding": 20, "symbolSize": 400, "titlePadding": 3, "rowPadding": 0, "labelOffset": 5}}
          }
        },
        {
          "data": {"name": "malariaTrend"},
          "mark": {"type": "line", "strokeWidth": 1.5, "strokeDash": [4, 3], "opacity": 0.9},
          "encoding": {
            "x": {"field": "x", "type": "quantitative"},
            "y": {"field": "v", "type": "quantitative"},
            "color": {"field": "s", "type": "nominal", "legend": null}
          }
        },
        {
          "data": {"values": [{"x": 1950, "v": 0}, {"x": 2022.5, "v": 0}]},
          "mark": {"type": "line", "color": "#3f5866", "strokeDash": [6, 4], "strokeWidth": 1.3},
          "encoding": {
            "x": {"field": "x", "type": "quantitative"},
            "y": {"field": "v", "type": "quantitative"}
          }
        }
      ]
    },
    {
      "width": 424, "height": 223,
      "layer": [
        {
          "data": {"name": "vibrioG"},
          "mark": {"type": "line", "strokeWidth": 1.6},
          "encoding": {
            "x": {"field": "x", "type": "quantitative", "scale": {"domain": [1980, 2021.4], "nice": false, "zero": false},
                  "axis": {"values": [1980, 1985, 1990, 1995, 2000, 2005, 2010, 2015, 2020], "format": "d", "title": "Year", "titleFontSize": 12.5, "titlePadding": 8, "labelFontSize": 13.8, "tickSize": 6, "labelPadding": 5}},
            "y": {"field": "v", "type": "quantitative", "scale": {"domain": [3, 18], "nice": false, "zero": false},
                  "axis": {"values": [3, 6, 9, 12, 15, 18], "title": ["Area of coastline", "suitable for outbreaks (%)"], "titleFontSize": 13.3, "titleLineHeight": 18.5, "titleX": -58, "titleY": 114, "titleAngle": -90, "titleAlign": "center", "titleBaseline": "bottom", "labelFontSize": 13.8, "tickSize": 6, "labelPadding": 3}},
            "color": {"field": "s", "type": "nominal",
                      "scale": {"domain": ["Northern", "Tropics", "Southern"], "range": ["#2d5898", "#a486c6", "#36b2c7"]},
                      "legend": {"title": ["Vibrio bacteria (global)", "Latitude"], "titleLineHeight": 27, "orient": "none", "legendX": 1, "legendY": -79, "direction": "horizontal", "columnPadding": 25, "symbolSize": 529, "titlePadding": 4.5, "labelOffset": 6}}
          }
        },
        {
          "data": {"name": "vibrioGTrend"},
          "mark": {"type": "line", "strokeWidth": 1.5, "strokeDash": [4, 3], "opacity": 0.9},
          "encoding": {
            "x": {"field": "x", "type": "quantitative"},
            "y": {"field": "v", "type": "quantitative"},
            "color": {"field": "s", "type": "nominal", "legend": null}
          }
        }
      ]
    },
    {
      "width": 421, "height": 223,
      "layer": [
        {
          "data": {"name": "vibrioL"},
          "mark": {"type": "line", "strokeWidth": 1.6},
          "encoding": {
            "x": {"field": "x", "type": "quantitative", "scale": {"domain": [1980, 2021.4], "nice": false, "zero": false},
                  "axis": {"values": [1980, 1985, 1990, 1995, 2000, 2005, 2010, 2015, 2020], "format": "d", "title": "Year", "titleFontSize": 12.5, "titlePadding": 8, "labelFontSize": 13.8, "tickSize": 6, "labelPadding": 5}},
            "y": {"field": "v", "type": "quantitative", "scale": {"domain": [0, 100], "nice": false},
                  "axis": {"values": [0, 20, 40, 60, 80, 100], "title": ["Area of coastline", "suitable for outbreaks (%)"], "titleFontSize": 13.3, "titleLineHeight": 18.5, "titleX": -59, "titleY": 113.5, "titleAngle": -90, "titleAlign": "center", "titleBaseline": "bottom", "labelFontSize": 13.8, "tickSize": 6, "labelPadding": 3}},
            "color": {"field": "s", "type": "nominal",
                      "scale": {"domain": ["Baltics", "Pacific Northwest", "Atlantic Northeast"], "range": ["#2d5898", "#a486c6", "#6bb94b"]},
                      "legend": {"title": "Vibrio bacteria (local)", "orient": "none", "legendX": 1, "legendY": -79, "direction": "horizontal", "columnPadding": 25, "symbolSize": 529, "titlePadding": 31.5, "labelOffset": 6}}
          }
        },
        {
          "data": {"name": "vibrioLTrend"},
          "mark": {"type": "line", "strokeWidth": 1.5, "strokeDash": [4, 3], "opacity": 0.9},
          "encoding": {
            "x": {"field": "x", "type": "quantitative"},
            "y": {"field": "v", "type": "quantitative"},
            "color": {"field": "s", "type": "nominal", "legend": null}
          }
        }
      ]
    }
  ]
}
